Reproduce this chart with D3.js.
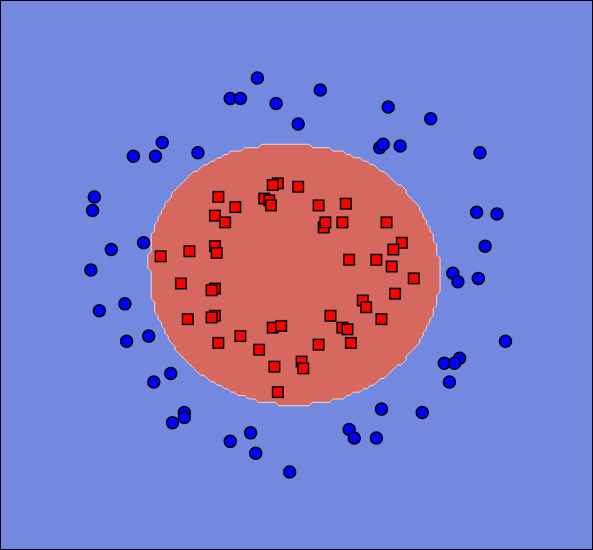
<!DOCTYPE html>
<html>
<head>
<meta charset="utf-8">
<script src="https://cdn.jsdelivr.net/npm/d3@7"></script>
<style>
  html, body { margin: 0; padding: 0; background: #fff; }
  svg { display: block; }
</style>
</head>
<body>
<svg id="chart" width="593" height="550"></svg>
<script>
// ---- data (feature space units) ----
const outerX = [-0.23,-0.39,-0.33,-0.12,0.14,0.54,0.79,0.01,-0.79,-0.96,-0.83,-0.58,0.49,0.51,0.61,1.08,
  -1.19,-1.20,1.06,1.18,-1.09,-0.90,1.11,-1.21,0.92,0.95,1.07,-1.01,-1.16,-0.87,-1.00,1.23,0.87,0.96,0.93,
  -0.74,-0.84,0.90,-0.66,-0.66,-0.73,0.50,0.74,-0.27,-0.39,-0.24,0.31,0.34,0.47,-0.04];
const outerY = [1.16,1.04,1.04,1.01,1.09,0.99,0.92,0.89,0.78,0.70,0.70,0.72,0.75,0.77,0.76,0.72,
  0.46,0.38,0.37,0.36,0.15,0.19,0.17,0.03,0.01,-0.04,-0.02,-0.17,-0.21,-0.36,-0.39,-0.39,-0.52,-0.49,-0.52,
  -0.58,-0.63,-0.63,-0.81,-0.84,-0.87,-0.79,-0.81,-0.93,-0.98,-1.05,-0.91,-0.96,-0.96,-1.16];

const innerX = [-0.11,-0.14,0.01,-0.46,-0.36,-0.19,-0.16,-0.15,-0.48,-0.42,-0.48,-0.47,-0.63,-0.80,
  0.13,0.29,0.16,0.17,0.27,0.53,0.62,0.57,0.31,0.47,0.56,0.69,-0.68,-0.48,-0.50,-0.64,-0.48,-0.50,
  -0.46,-0.33,-0.22,-0.14,-0.09,-0.13,-0.11,0.58,0.39,0.41,0.50,0.20,0.27,0.30,0.32,0.13,0.03,0.04];
const innerY = [0.54,0.53,0.52,0.46,0.40,0.45,0.44,0.41,0.35,0.31,0.17,0.13,0.14,0.11,
  0.41,0.42,0.28,0.31,0.31,0.31,0.19,0.15,0.09,0.09,0.05,-0.02,-0.05,-0.08,-0.09,-0.26,-0.24,-0.25,
  -0.40,-0.36,-0.44,-0.31,-0.30,-0.54,-0.69,-0.11,-0.15,-0.19,-0.26,-0.24,-0.31,-0.32,-0.40,-0.41,-0.51,-0.55];

// decision region (classifier estimate): inside -> inner class
const regionCenter = [-0.01, 0.0];
const regionRadii = [0.853, 0.765];
const regionSkew = 0.2;   // extra reach toward upper-left
const gridStep = 0.02;

const xDomain = [-1.745, 1.745];
const yDomain = [-1.62, 1.62];

// ---- drawing ----
const W = 593, H = 550;
const svg = d3.select("#chart");
const x = d3.scaleLinear().domain(xDomain).range([0, W]);
const y = d3.scaleLinear().domain(yDomain).range([H, 0]);

function decision(px, py) {
  const X = (px - regionCenter[0]) / regionRadii[0];
  const Y = (py - regionCenter[1]) / regionRadii[1];
  let f = X * X + Y * Y;
  if (X < 0 && Y > 0) f += regionSkew * X * Y;
  return f < 1 ? 1 : 0;
}

const nx = Math.ceil((xDomain[1] - xDomain[0]) / gridStep) + 1;
const ny = Math.ceil((yDomain[1] - yDomain[0]) / gridStep) + 1;
const grid = new Array(nx * ny);
for (let j = 0; j < ny; j++) {
  for (let i = 0; i < nx; i++) {
    grid[j * nx + i] = decision(xDomain[0] + i * gridStep, yDomain[1] - j * gridStep);
  }
}
const contours = d3.contours().size([nx, ny]).thresholds([0.5])(grid);
const proj = d3.geoTransform({
  point: function(gx, gy) {
    this.stream.point(x(xDomain[0] + (gx - 0.5) * gridStep), y(yDomain[1] - (gy - 0.5) * gridStep));
  }
});
const path = d3.geoPath(proj);

svg.append("defs").append("clipPath").attr("id", "clip")
  .append("rect").attr("x", 0).attr("y", 0).attr("width", W).attr("height", H);

const g = svg.append("g").attr("clip-path", "url(#clip)");
g.append("rect").attr("x", 0).attr("y", 0).attr("width", W).attr("height", H).attr("fill", "#7289df");
g.selectAll("path.region").data(contours).join("path")
  .attr("class", "region")
  .attr("d", path)
  .attr("fill", "#d6685f")
  .attr("stroke", "#e9dede")
  .attr("stroke-width", 1);

const side = 10.5;
g.selectAll("rect.inner").data(d3.range(innerX.length)).join("rect")
  .attr("class", "inner")
  .attr("x", i => x(innerX[i]) - side / 2)
  .attr("y", i => y(innerY[i]) - side / 2)
  .attr("width", side).attr("height", side)
  .attr("fill", "#ff0000").attr("stroke", "#000").attr("stroke-width", 1.5);

g.selectAll("circle.outer").data(d3.range(outerX.length)).join("circle")
  .attr("class", "outer")
  .attr("cx", i => x(outerX[i]))
  .attr("cy", i => y(outerY[i]))
  .attr("r", 6)
  .attr("fill", "#0000ff").attr("stroke", "#000").attr("stroke-width", 1.5);

svg.append("rect").attr("x", 0.5).attr("y", 0.5).attr("width", W - 1).attr("height", H - 1)
  .attr("fill", "none").attr("stroke", "#000").attr("stroke-width", 1);
</script>
</body>
</html>
